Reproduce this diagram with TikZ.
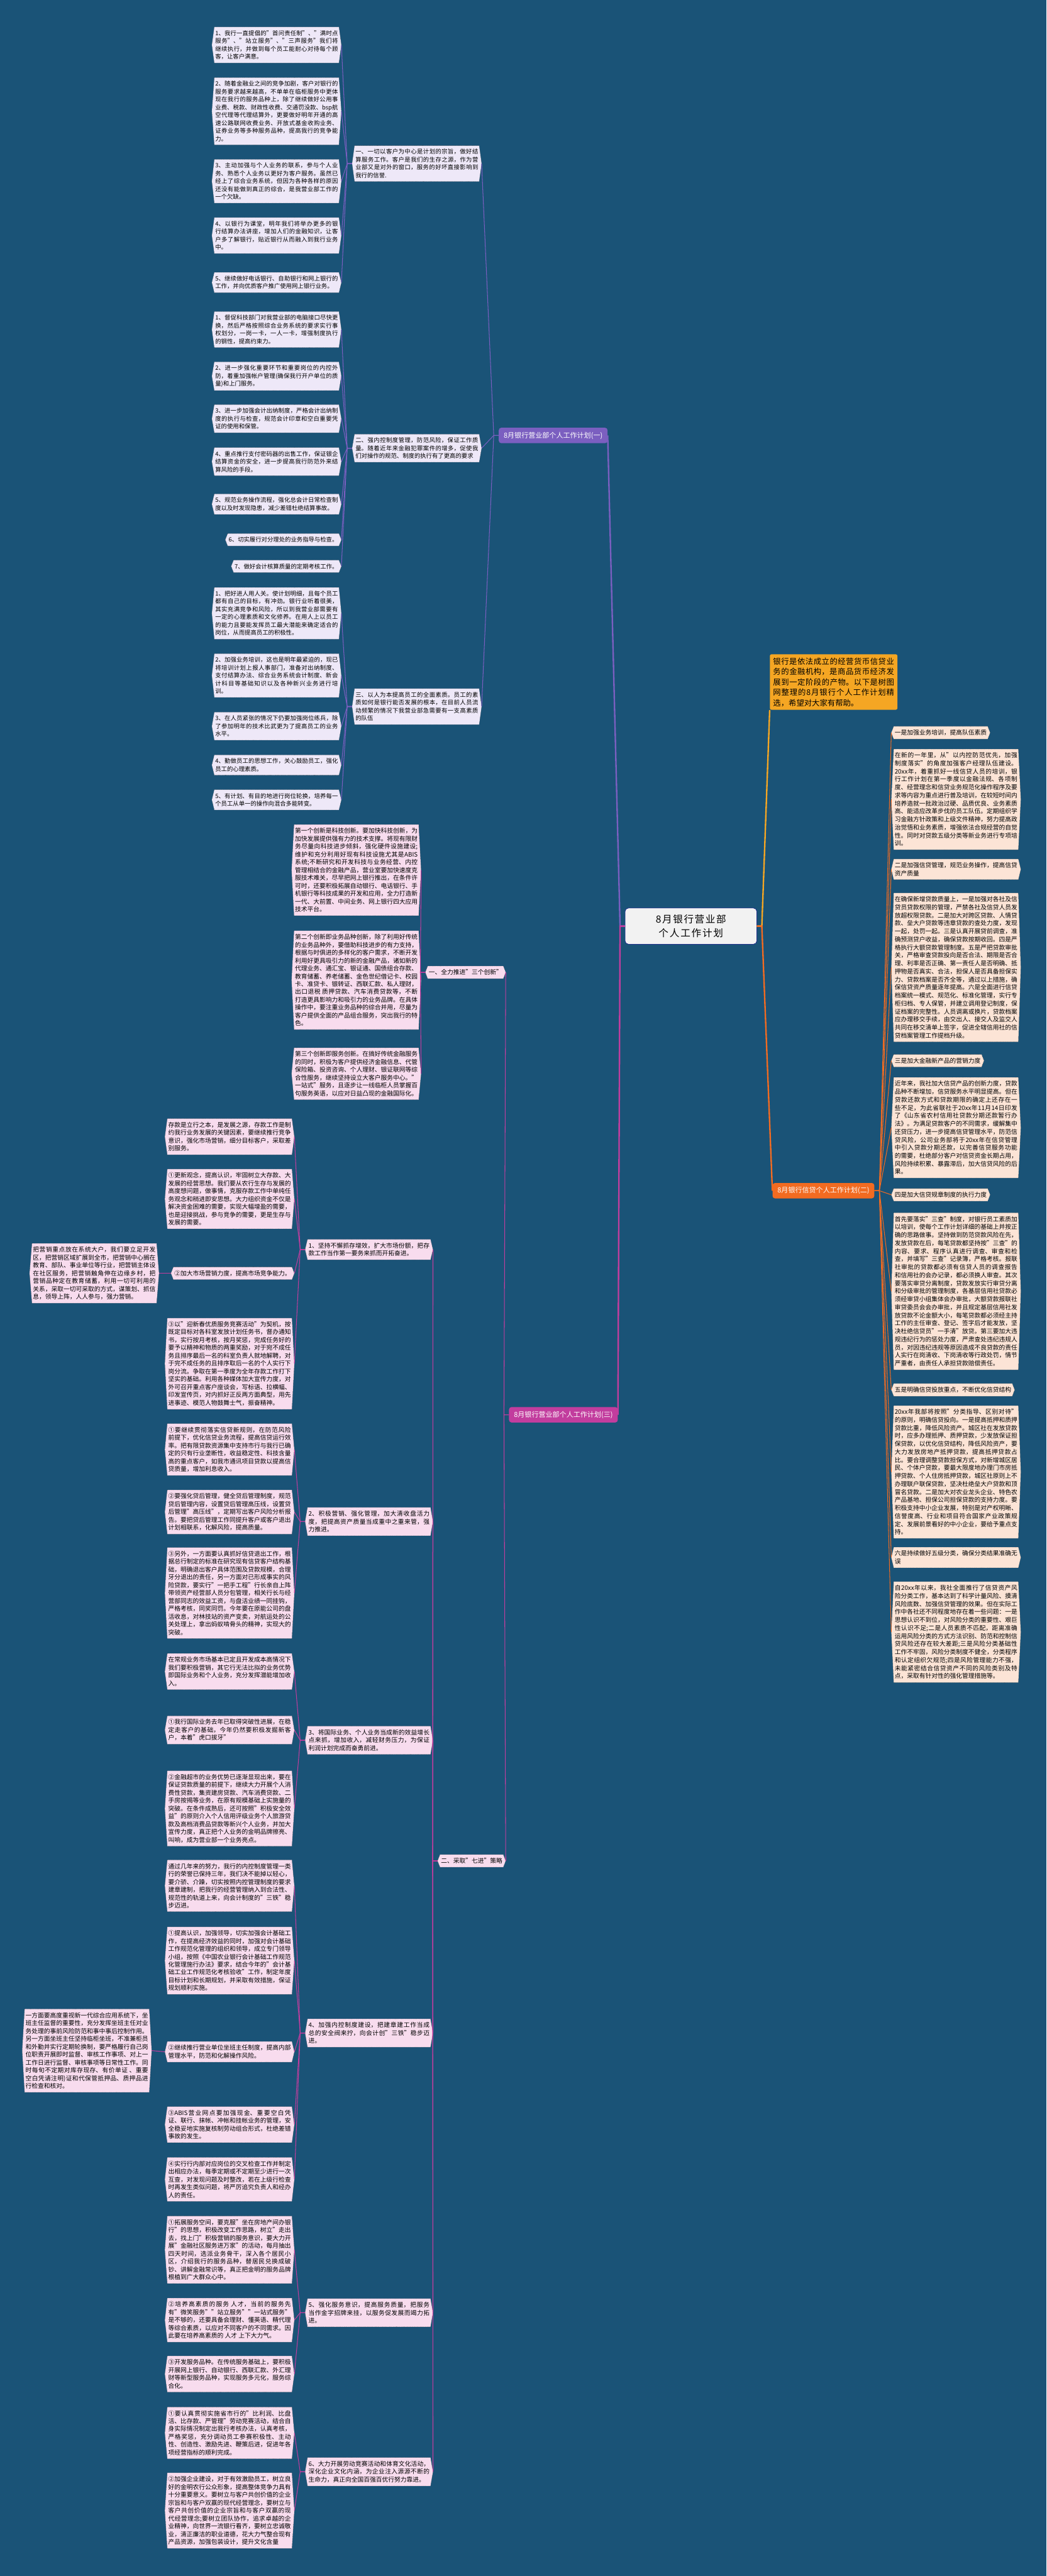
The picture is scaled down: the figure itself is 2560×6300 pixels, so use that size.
\documentclass[tikz,border=0pt]{standalone}
\usepackage{fontspec}
\setmainfont{Noto Sans CJK SC}
\XeTeXlinebreaklocale "zh"
\XeTeXlinebreakskip=0pt plus 1pt
\usetikzlibrary{positioning}
\definecolor{bgblue}{HTML}{1A5377}
\definecolor{lavfill}{HTML}{EEE8F8}
\definecolor{pinkfill}{HTML}{F8DCEE}
\definecolor{peachfill}{HTML}{FCE4D6}
\definecolor{purpleln}{HTML}{7B5FC0}
\definecolor{magentaln}{HTML}{C23D9E}
\definecolor{orangeln}{HTML}{F26B21}
\definecolor{goldln}{HTML}{F5A623}
\definecolor{rootfill}{HTML}{F2F2F2}
\pgfdeclarelayer{boxes}
\pgfsetlayers{boxes,main}

% pointed box drawn behind a named node
\newcommand{\hexbg}[2]{%
  \begin{pgfonlayer}{boxes}
    \draw[boxline, fill=#2] (#1.north west) -- (#1.north east) -- ([xshift=3pt]#1.east)
      -- (#1.south east) -- (#1.south west) -- ([xshift=-3pt]#1.west) -- cycle;
  \end{pgfonlayer}}

\begin{document}
\begin{tikzpicture}[
  x=0.5pt, y=-0.5pt,
  boxline/.style={draw=black!75, densely dotted, line width=0.4pt},
  para/.style={inner xsep=1pt, inner ysep=4pt, text width=150pt, align=justify},
  tag/.style={inner xsep=1pt, inner ysep=4pt},
  lavtxt/.style={font=\fontsize{7.2}{9.6}\selectfont},
  pinktxt/.style={font=\fontsize{7.5}{9.6}\selectfont},
  peachtxt/.style={font=\fontsize{7.5}{9.8}\selectfont},
  branch/.style={rounded corners=3pt, text=white, inner xsep=6pt, inner ysep=5pt, font=\fontsize{8.5}{10}\selectfont},
  lnA/.style={purpleln, line width=0.8pt},
  lnB/.style={orangeln, line width=0.8pt},
  lnC/.style={magentaln, line width=0.8pt}
]
\useasboundingbox (0,0) rectangle (2560,6300);
\begin{pgfonlayer}{boxes}
  \fill[bgblue] (0,0) rectangle (2560,6300);
\end{pgfonlayer}

% centre and intro
\node[draw=blue!50!black, fill=rootfill, rounded corners=4pt, text width=145pt, align=center,
  inner xsep=8pt, inner ysep=8pt, font=\fontsize{12}{17}\selectfont] (root) at (1690,2265) {8月银行营业部个人工作计划};
\node[fill=goldln, rounded corners=2pt, text width=148pt, align=justify, inner sep=4pt,
  font=\fontsize{9.5}{12.7}\selectfont] (intro) at (2039,1668) {银行是依法成立的经营货币信贷业务的金融机构，是商品货币经济发展到一定阶段的产物。以下是树图网整理的8月银行个人工作计划精选，希望对大家有帮助。};

% main branches
\node[branch, fill=purpleln] (planA) at (1353,1065) {8月银行营业部个人工作计划(一)};
\node[branch, fill=orangeln] (planB) at (2014,2912) {8月银行信贷个人工作计划(二)};
\node[branch, fill=magentaln] (planC) at (1378,3460) {8月银行营业部个人工作计划(三)};

% ---- plan (一)
\node[para, lavtxt, anchor=east] (a1) at (1172,400) {一、一切以客户为中心是计划的宗旨，做好结算服务工作。客户是我们的生存之源，作为营业部又是对外的窗口，服务的好坏直接影响到我行的信誉.};
\node[para, lavtxt, anchor=east] (a2) at (1172,1096) {二、强内控制度管理，防范风险，保证工作质量。随着近年来金融犯罪案件的增多，促使我们对操作的规范、制度的执行有了更高的要求};
\node[para, lavtxt, anchor=east] (a3) at (1172,1728) {三、以人为本提高员工的全面素质。员工的素质如何是银行能否发展的根本，在目前人员流动频繁的情况下我营业部急需要有一支高素质的队伍};

\node[para, lavtxt, anchor=east] (a1x1) at (829,110) {1、我行一直提倡的"首问责任制"、"满时点服务"、"站立服务"、"三声服务"我们将继续执行，并做到每个员工能耐心对待每个顾客，让客户满意。};
\node[para, lavtxt, anchor=east] (a1x2) at (829,272) {2、随着金融业之间的竞争加剧，客户对银行的服务要求越来越高，不单单在临柜服务中更体现在我行的服务品种上，除了继续做好公用事业费、税款、财政性收费、交通罚没款、bsp航空代理等代理结算外，更要做好明年开通的高速公路联网收费业务、开放式基金收购业务、证券业务等多种服务品种，提高我行的竞争能力。};
\node[para, lavtxt, anchor=east] (a1x3) at (829,443) {3、主动加强与个人业务的联系，参与个人业务、熟悉个人业务以更好为客户服务。虽然已经上了综合业务系统，但因为各种各样的原因还没有能做到真正的综合，是我营业部工作的一个欠缺。};
\node[para, lavtxt, anchor=east] (a1x4) at (829,576) {4、以银行为课堂，明年我们将举办更多的银行结算办法讲座，增加人们的金融知识，让客户多了解银行，贴近银行从而融入到我行业务中。};
\node[para, lavtxt, anchor=east] (a1x5) at (829,691) {5、继续做好电话银行、自助银行和网上银行的工作，并向优质客户推广使用网上银行业务。};

\node[para, lavtxt, anchor=east] (a2x1) at (829,806) {1、督促科技部门对我营业部的电脑接口尽快更换，然后严格按照综合业务系统的要求实行事权划分，一岗一卡，一人一卡，增强制度执行的钢性，提高约束力。};
\node[para, lavtxt, anchor=east] (a2x2) at (829,920) {2、进一步强化重要环节和重要岗位的内控外防，着重加强帐户管理(确保我行开户单位的质量)和上门服务。};
\node[para, lavtxt, anchor=east] (a2x3) at (829,1024) {3、进一步加强会计出纳制度，严格会计出纳制度的执行与检查，规范会计印章和空白重要凭证的使用和保管。};
\node[para, lavtxt, anchor=east] (a2x4) at (829,1129) {4、重点推行支付密码器的出售工作，保证银企结算资金的安全，进一步提高我行防范外来结算风险的手段。};
\node[para, lavtxt, anchor=east] (a2x5) at (829,1233) {5、规范业务操作流程，强化总会计日常检查制度以及时发现隐患，减少差错杜绝结算事故。};
\node[tag, lavtxt, anchor=east] (a2x6) at (829,1320) {6、切实履行对分理处的业务指导与检查。};
\node[tag, lavtxt, anchor=east] (a2x7) at (829,1385) {7、做好会计核算质量的定期考核工作。};

\node[para, lavtxt, anchor=east] (a3x1) at (829,1500) {1、把好进人用人关。使计划明细，且每个员工都有自己的目标，有冲劲。银行业听着很美，其实充满竞争和风险，所以到我营业部需要有一定的心理素质和文化修养。在用人上以员工的能力且要能发挥员工最大潜能来确定适合的岗位，从而提高员工的积极性。};
\node[para, lavtxt, anchor=east] (a3x2) at (829,1652) {2、加强业务培训，这也是明年最紧迫的，现已将培训计划上报人事部门，准备对出纳制度、支付结算办法、综合业务系统会计制度、新会计科目等基础知识以及各种新兴业务进行培训。};
\node[para, lavtxt, anchor=east] (a3x3) at (829,1776) {3、在人员紧张的情况下仍要加强岗位练兵，除了参加明年的技术比武更为了提高员工的业务水平。};
\node[para, lavtxt, anchor=east] (a3x4) at (829,1871) {4、勤做员工的思想工作，关心鼓励员工，强化员工的心理素质。};
\node[para, lavtxt, anchor=east] (a3x5) at (829,1956) {5、有计划、有目的地进行岗位轮换，培养每一个员工从单一的操作向混合多能转变。};

% ---- plan (三)
\node[tag, pinktxt, anchor=east] (c1) at (1231,2378) {一、全力推进"三个创新"};
\node[tag, pinktxt, anchor=east] (c2) at (1231,4551) {二、采取"七进"策略};

\node[para, pinktxt, anchor=east] (c1x1) at (1024,2128) {第一个创新是科技创新。要加快科技创新，为加快发展提供强有力的技术支撑。将现有限财务尽量向科技进步倾斜，强化硬件设施建设;维护和充分利用好现有科技设施尤其是ABIS系统;不断研究和开发科技与业务经营、内控管理相结合的金融产品，营业室要加快速度克服技术难关，尽早把网上银行推出，在条件许可时，还要积极拓展自动银行、电话银行、手机银行等科技成果的开发和应用，全力打造新一代、大前置、中间业务、网上银行四大应用技术平台。};
\node[para, pinktxt, anchor=east] (c1x2) at (1024,2397) {第二个创新即业务品种创新，除了利用好传统的业务品种外，要借助科技进步的有力支持，根据与时俱进的多样化的客户需求，不断开发利用好更具吸引力的新的金融产品，诸如新的代理业务、通汇宝、银证通、国债组合存款、教育储蓄、养老储蓄、金色世纪借记卡、校园卡、准贷卡、银转证、西联汇款、私人理财，出口退税 质押贷款、汽车消费贷款等，不断打造更具影响力和吸引力的业务品牌。在具体操作中，要注重业务品种的综合并用，尽量为客户提供全面的产品组合服务，突出我行的特色。};
\node[para, pinktxt, anchor=east] (c1x3) at (1024,2626) {第三个创新即服务创新。在搞好传统金融服务的同时，积极为客户提供经济金融信息、代管保险箱、投资咨询、个人理财、银证联网等综合性服务，继续坚持设立大客户服务中心。"一站式"服务，且逐步让一线临柜人员掌握百句服务英语，以应对日益凸现的金融国际化。};

\node[para, pinktxt, anchor=east, text width=148pt] (c2x1) at (1053,3056) {1、坚持不懈抓存增效，扩大市场份额，把存款工作当作第一要务来抓而开拓奋进。};
\node[para, pinktxt, anchor=east, text width=148pt] (c2x2) at (1053,3721) {2、积极营销、强化管理，加大清收盘活力度，把提高资产质量当成重中之重来管，强力推进。};
\node[para, pinktxt, anchor=east, text width=148pt] (c2x3) at (1053,4256) {3、将国际业务、个人业务当成新的效益增长点来抓，增加收入，减轻财务压力，为保证利润计划完成而奋勇前进。};
\node[para, pinktxt, anchor=east, text width=148pt] (c2x4) at (1053,4972) {4、加强内控制度建设，把建章建工作当成总的安全阀来拧，向会计创"三铁"稳步迈进。};
\node[para, pinktxt, anchor=east, text width=148pt] (c2x5) at (1053,5656) {5、强化服务意识，提高服务质量，把服务当作金字招牌来挂，以服务促发展而竭力拓进。};
\node[para, pinktxt, anchor=east, text width=148pt] (c2x6) at (1053,6045) {6、大力开展劳动竞赛活动和体育文化活动，深化企业文化内涵，为企业注入源源不断的生命力，真正向全国百强百优行努力靠进。};

\node[para, pinktxt, anchor=east] (c2x1a) at (714,2780) {存款是立行之本，是发展之源，存款工作是制约我行业务发展的关键因素，要继续推行竞争意识，强化市场营销，细分目标客户，采取差别服务。};
\node[para, pinktxt, anchor=east] (c2x1b) at (714,2932) {①更新观念，提高认识，牢固树立大存款、大发展的经营思想。我们要从农行生存与发展的高度想问题，做事情，克服存款工作中单纯任务观念和稍进即安思想。大力组织资金不仅是解决资金困难的需要，实现大幅增盈的需要，也是迎接挑战，参与竞争的需要，更是生存与发展的需要。};
\node[tag, pinktxt, anchor=east] (c2x1c) at (714,3114) {②加大市场营销力度，提高市场竞争能力。};
\node[para, pinktxt, anchor=east] (c2x1d) at (714,3335) {③以"迎新春优质服务竞赛活动"为契机，按既定目标对各科室发放计划任务书，督办通知书，实行按月考核，按月奖惩，完成任务好的要予以精神和物质的两重奖励，对于宛不成任务且排序最后一名的科室负责人就地解聘，对于完不成任务的且排序取后一名的个人实行下岗分流。争取在第一季度为全年存款工作打下坚实的基础。利用各种媒体加大宣传力度，对外可召开重点客户座谈会，写标语、拉横幅、印发宣传页，对内抓好正反两方面典型，用先进事迹、模范人物鼓舞士气，振奋精神。};
\node[para, pinktxt, anchor=east] (c2x1e) at (383,3114) {把营销重点放在系统大户，我们要立足开发区，把营销区域扩展到全市，把营销中心搁在教育、部队、事业单位等行业，把营销主体设在社区服务，把营销触角伸在边缘乡村，把营销品种定在教育储蓄，利用一切可利用的关系，采取一切可采取的方式，谋策划、抓信息，领导上阵，人人参与，强力营销。};

\node[para, pinktxt, anchor=east] (c2x2a) at (714,3545) {①要继续贯彻落实信贷新规则，在防范风险前提下，优化信贷业务流程，提高信贷运行效率。把有限贷款资源集中支持市行与我行已确定的只有行业垄断性，收益稳定性、科技含量高的重点客户，如我市通讯项目贷款以提高信贷质量，增加利息收入。};
\node[para, pinktxt, anchor=east] (c2x2b) at (714,3698) {②要强化贷后管理，健全贷后管理制度，规范贷后管理内容，设置贷后管理高压线，设置贷后管理"高压线"，定期写出客户风险分析报告。要把贷后管理工作同提升客户或客户退出计划相联系，化解风险，提高质量。};
\node[para, pinktxt, anchor=east] (c2x2c) at (714,3896) {③另外，一方面要认真抓好信贷退出工作，根据总行制定的标准在研究现有信贷客户结构基础，明确退出客户具体范围及贷款规模，合理牙分退出的责任，另一方面对已形成事实的风险贷款，要实行"一把手工程"行长亲自上阵带领资产经营部人员分包管理，相关行长与经营部同志的效益工资，与盘活业绩一同挂钩，严格考核，同奖同罚。今年要在原能公司的盘活收息，对林技站的资产变卖，对航运处的公关处理上，拿出蚂蚁啃骨头的精神，实现大的突破。};

\node[para, pinktxt, anchor=east] (c2x3a) at (714,4088) {在常规业务市场基本已定且开发成本高情况下我们要积极营销，其它行无法比拟的业务优势即国际业务和个人业务，充分发挥潜能增加收入。};
\node[para, pinktxt, anchor=east] (c2x3b) at (714,4231) {①我行国际业务去年已取得突破性进展，在稳定走客户的基础，今年仍然要积极发掘新客户，本着"虎口拔牙"};
\node[para, pinktxt, anchor=east] (c2x3c) at (714,4423) {②金融超市的业务优势已逐渐显现出来，要在保证贷款质量的前提下，继续大力开展个人消费性贷款，集资建房贷款、汽车消费贷款、二手房按揭等业务，在原有规模基础上实施量的突破。在条件成熟后，还可按照"积极安全效益"的原则介入个人信用评级业务个人旅游贷款及高档消费品贷款等新兴个人业务，并加大宣传力度，真正把个人业务的金明品牌擦亮、叫响，成为营业部一个业务亮点。};

\node[para, pinktxt, anchor=east] (c2x4a) at (714,4612) {通过几年来的努力，我行的内控制度管理一类行的荣誉已保持三年，我们决不能掉以轻心，要介骄、介躁，切实按照内控管理制度的要求建章建制，把我行的经营管理纳入到合法性、规范性的轨道上来，向会计制度的"三铁"稳步迈进。};
\node[para, pinktxt, anchor=east] (c2x4b) at (714,4795) {①提高认识，加强领导，切实加强会计基础工作，在提高经济效益的同时，加强对会计基础工作规范化管理的组织和领导，成立专门领导小组，按照《中国农业银行会计基础工作规范化管理施行办法》要求，结合今年的"会计基础工业工作规范化考核验收"工作，制定年度目标计划和长期规划，并采取有效措施，保证规划顺利实施。};
\node[para, pinktxt, anchor=east] (c2x4c) at (714,5018) {②继续推行营业单位坐班主任制度，提高内部管理水平，防范和化解操作风险。};
\node[para, pinktxt, anchor=east] (c2x4d) at (714,5196) {③ABIS营业网点要加强现金、重要空白凭证、联行、抹帐、冲帐和挂帐业务的管理，安全稳妥地实施复核制劳动组合形式，杜绝差错事故的发生。};
\node[para, pinktxt, anchor=east] (c2x4e) at (714,5330) {④实行行内部对应岗位的交叉检查工作并制定出相应办法，每季定期或不定期至少进行一次互查，对发现问题及时整改，若在上级行检查时再发生类似问题，将严厉追究负责人和经办人的责任。};
\node[para, pinktxt, anchor=east] (c2x4f) at (365,5015) {一方面要高度重视新一代综合应用系统下，坐班主任监督的重要性，充分发挥坐班主任对业务处理的事前风险防范和事中事后控制作用。另一方面坐班主任坚持临柜坐班，不准兼柜员和外勤并实行定期轮换制，要严格履行自己岗位职责开展即时监督、审核工作事项、对上一工作日进行监督、审核事项等日常性工作。同时每旬不定期对库存现存、有价单证 、重要空白凭请注明)证和代保管抵押品、质押品进行检查和核对。};

\node[para, pinktxt, anchor=east] (c2x5a) at (714,5502) {①拓展服务空间，要克服"坐在房地产间办银行"的思想，积极改变工作思路，树立"走出去，找上门"积极营销的服务意识，要大力开展"金融社区服务进万家"的活动，每月抽出四天时间，选派业务骨干，深入各个居民小区，介绍我行的服务品种，替居民兑换成破钞、讲解金融常识等，真正把金明的服务品牌根植到广大群众心中。};
\node[para, pinktxt, anchor=east] (c2x5b) at (714,5674) {②培养高素质的服务 人才，当前的服务先有"微笑服务""站立服务""一站式服务"是不够的，还要具备会理财、懂英语、精代理等综合素质，以应对不同客户的不同需求。因此要在培养高素质的 人才 上下大力气。};
\node[para, pinktxt, anchor=east] (c2x5c) at (714,5806) {③开发服务品种。在传统服务基础上，要积极开展网上银行、自动银行、西联汇款、外汇理财等新型服务品种，实现服务多元化，服务综合化。};

\node[para, pinktxt, anchor=east] (c2x6a) at (714,5950) {①要认真贯彻实施省市行的"比利润、比盘活、比存款、严管理"劳动竞赛活动，结合自身实际情况制定出我行考核办法，认真考核，严格奖惩，充分调动员工参赛积极性、主动性、创造性、激励先进、鞭策后进，促进年各项经营指标的顺利完成。};
\node[para, pinktxt, anchor=east] (c2x6b) at (714,6140) {②加强企业建设，对于有效激励员工，树立良好的金明农行公众形象，提高整体竞争力具有十分重要意义。要树立与客户共创价值的企业宗旨和与客户双赢的现代经营理念，要树立与客户共创价值的企业宗旨和与客户双赢的现代经营理念;要树立团队协作，追求卓越的企业精神，向世界一流银行看齐，要树立忠诚敬业，清正廉洁的职业道德，花大力气整合现有产品资源，加强包装设计，提升文化含量};

% ---- plan (二)
\node[tag, peachtxt, anchor=west] (b1) at (2186,1792) {一是加强业务培训，提高队伍素质};
\node[para, peachtxt, anchor=west] (b2) at (2186,1955) {在新的一年里，从"以内控防范优先，加强制度落实"的角度加强客户经理队伍建设。20xx年，着重抓好一线信贷人员的培训，银行工作计划在第一季度以金融法规、各项制度、经营理念和信贷业务规范化操作程序及要求等内容为重点进行普及培训，在较短时间内培养造就一批政治过硬、品质优良、业务素质高、能适应改革步伐的员工队伍。定期组织学习金融方针政策和上级文件精神，努力提高政治觉悟和业务素质，增强依法合规经营的自觉性。同时对贷款五级分类等新业务进行专项培训。};
\node[para, peachtxt, anchor=west] (b3) at (2186,2126) {二是加强信贷管理，规范业务操作，提高信贷资产质量};
\node[para, peachtxt, anchor=west] (b4) at (2186,2366) {在确保新增贷款质量上，一是加强对各社及信贷员贷款权限的管理，严禁各社及信贷人员发放超权限贷款。二是加大对跨区贷款、人情贷款、垒大户贷款等违章贷款的查处力度，发现一起，处罚一起。三是认真开展贷前调查，准确预测贷户收益，确保贷款按期收回。四是严格执行大额贷款管理制度。五是严把贷款审批关，严格审查贷款投向是否合法、期限是否合理、利率是否正确、第一责任人是否明确、抵押物是否真实、合法，担保人是否具备担保实力、贷款档案是否齐全等，通过以上措施，确保信贷资产质量逐年提高。六是全面进行信贷档案统一模式、规范化、标准化管理，实行专柜归档、专人保管，并建立调用登记制度，保证档案的完整性。人员调离或换片，贷款档案应办理移交手续，由交出人、接交人及监交人共同在移交清单上签字，促进全辖信用社的信贷档案管理工作提档升级。};
\node[tag, peachtxt, anchor=west] (b5) at (2186,2594) {三是加大金融新产品的营销力度};
\node[para, peachtxt, anchor=west] (b6) at (2186,2758) {近年来，我社加大信贷产品的创新力度，贷款品种不断增加，信贷服务水平明显提高。但在贷款还款方式和贷款期限的确定上还存在一些不足，为此省联社于20xx年11月14日印发了《山东省农村信用社贷款分期还款暂行办法》。为满足贷款客户的不同需求，缓解集中还贷压力，进一步提高信贷管理水平，防范信贷风险，公司业务部将于20xx年在信贷管理中引入贷款分期还款，以完善信贷服务功能的需要，杜绝部分客户对信贷资金长期占用，风险持续积累、暴露滞后，加大信贷风险的后果。};
\node[tag, peachtxt, anchor=west] (b7) at (2186,2922) {四是加大信贷规章制度的执行力度};
\node[para, peachtxt, anchor=west] (b8) at (2186,3158) {首先要落实"三查"制度，对银行员工素质加以培训，使每个工作计划详细的基础上并按正确的思路做事。坚持做到防范贷款风险在先，发放贷款在后，每笔贷款都坚持按"三查"的内容、要求、程序认真进行调查、审查和检查，并填写"三查"记录簿，严格考核。报联社审批的贷款都必须有信贷人员的调查报告和信用社的会办记录，都必须换人审查。其次要落实审贷分离制度，贷款发放实行审贷分离和分级审批的管理制度，各基层信用社贷款必须经审贷小组集体会办审批，大额贷款报联社审贷委员会会办审批，并且规定基层信用社发放贷款不论金额大小，每笔贷款都必须经主持工作的主任审查、登记、签字后才能发放，坚决杜绝信贷员"一手清"放贷。第三要加大违规违纪行为的惩处力度，严肃查处违纪违规人员，对因违纪违规等原因造成不良贷款的责任人实行在岗清收、下岗清收等行政处罚，情节严重者，由责任人承担贷款赔偿责任。};
\node[tag, peachtxt, anchor=west] (b9) at (2186,3399) {五是明确信贷投放重点，不断优化信贷结构};
\node[para, peachtxt, anchor=west] (b10) at (2186,3600) {20xx年我部将按照"分类指导、区别对待"的原则，明确信贷投向。一是提高抵押和质押贷款比重，降低风险资产。城区社在发放贷款时，应多办理抵押、质押贷款，少发放保证担保贷款，以优化信贷结构，降低风险资产，要大力发放房地产抵押贷款，提高抵押贷款占比。要合理调整贷款担保方式，对新增城区居民、个体户贷款，要最大限度地办理门市房抵押贷款、个人住房抵押贷款，城区社原则上不办理联户联保贷款，坚决杜绝垒大户贷款和顶冒名贷款。二是加大对农业龙头企业、特色农产品基地、担保公司担保贷款的支持力度。要积极支持中小企业发展，特别是对产权明晰、信誉度高、行业和项目符合国家产业政策规定、发展前景看好的中小企业，要给予重点支持。};
\node[para, peachtxt, anchor=west] (b11) at (2186,3809) {六是持续做好五级分类，确保分类结果准确无误};
\node[para, peachtxt, anchor=north west] (b12) at (2186,3868) {自20xx年以来，我社全面推行了信贷资产风险分类工作，基本达到了科学计量风险、摸清风险底数、加强信贷管理的效果。但在实际工作中各社还不同程度地存在着一些问题：一是思想认识不到位，对风险分类的重要性、艰巨性认识不足;二是人员素质不匹配，距离准确运用风险分类的方式方法识别、防范和控制信贷风险还存在较大差距;三是风险分类基础性工作不牢固，风险分类制度不健全，分类程序和认定组织欠规范;四是风险管理能力不强，未能紧密结合信贷资产不同的风险类别及特点，采取有针对性的强化管理措施等。};

% box outlines
\foreach \n in {a1,a2,a3,a1x1,a1x2,a1x3,a1x4,a1x5,a2x1,a2x2,a2x3,a2x4,a2x5,a2x6,a2x7,a3x1,a3x2,a3x3,a3x4,a3x5}
  \hexbg{\n}{lavfill};
\foreach \n in {c1,c2,c1x1,c1x2,c1x3,c2x1,c2x2,c2x3,c2x4,c2x5,c2x6,c2x1a,c2x1b,c2x1c,c2x1d,c2x1e,c2x2a,c2x2b,c2x2c,c2x3a,c2x3b,c2x3c,c2x4a,c2x4b,c2x4c,c2x4d,c2x4e,c2x4f,c2x5a,c2x5b,c2x5c,c2x6a,c2x6b}
  \hexbg{\n}{pinkfill};
\foreach \n in {b1,b2,b3,b4,b5,b6,b7,b8,b9,b10,b11,b12}
  \hexbg{\n}{peachfill};

% connectors
\draw[purpleln, line width=1.8pt] (root.west) -- ++(-12,0) -- (planA.east);
\draw[magentaln, line width=1.8pt] (root.west) -- ++(-12,0) -- (planC.east);
\draw[goldln, line width=1.8pt] (root.east) -- ++(12,0) -- (intro.south west);
\draw[orangeln, line width=1.8pt] (root.east) -- ++(12,0) -- (planB.west);

\foreach \k in {a1,a2,a3}
  \draw[lnA] (planA.west) -- ++(-12,0) -- ([xshift=3pt]\k.east);
\foreach \k in {a1x1,a1x2,a1x3,a1x4,a1x5}
  \draw[lnA] ([xshift=-3pt]a1.west) -- ++(-12,0) -- ([xshift=3pt]\k.east);
\foreach \k in {a2x1,a2x2,a2x3,a2x4,a2x5,a2x6,a2x7}
  \draw[lnA] ([xshift=-3pt]a2.west) -- ++(-12,0) -- ([xshift=3pt]\k.east);
\foreach \k in {a3x1,a3x2,a3x3,a3x4,a3x5}
  \draw[lnA] ([xshift=-3pt]a3.west) -- ++(-12,0) -- ([xshift=3pt]\k.east);

\foreach \k in {c1,c2}
  \draw[lnC] (planC.west) -- ++(-12,0) -- ([xshift=3pt]\k.east);
\foreach \k in {c1x1,c1x2,c1x3}
  \draw[lnC] ([xshift=-3pt]c1.west) -- ++(-12,0) -- ([xshift=3pt]\k.east);
\foreach \k in {c2x1,c2x2,c2x3,c2x4,c2x5,c2x6}
  \draw[lnC] ([xshift=-3pt]c2.west) -- ++(-12,0) -- ([xshift=3pt]\k.east);
\foreach \k in {c2x1a,c2x1b,c2x1c,c2x1d}
  \draw[lnC] ([xshift=-3pt]c2x1.west) -- ++(-12,0) -- ([xshift=3pt]\k.east);
\foreach \k in {c2x2a,c2x2b,c2x2c}
  \draw[lnC] ([xshift=-3pt]c2x2.west) -- ++(-12,0) -- ([xshift=3pt]\k.east);
\foreach \k in {c2x3a,c2x3b,c2x3c}
  \draw[lnC] ([xshift=-3pt]c2x3.west) -- ++(-12,0) -- ([xshift=3pt]\k.east);
\foreach \k in {c2x4a,c2x4b,c2x4c,c2x4d,c2x4e}
  \draw[lnC] ([xshift=-3pt]c2x4.west) -- ++(-12,0) -- ([xshift=3pt]\k.east);
\foreach \k in {c2x5a,c2x5b,c2x5c}
  \draw[lnC] ([xshift=-3pt]c2x5.west) -- ++(-12,0) -- ([xshift=3pt]\k.east);
\foreach \k in {c2x6a,c2x6b}
  \draw[lnC] ([xshift=-3pt]c2x6.west) -- ++(-12,0) -- ([xshift=3pt]\k.east);
\draw[lnC] ([xshift=-3pt]c2x1c.west) -- ([xshift=3pt]c2x1e.east);
\draw[lnC] ([xshift=-3pt]c2x4c.west) -- ([xshift=3pt]c2x4f.east);

\foreach \k in {b1,b2,b3,b4,b5,b6,b7,b8,b9,b10,b11,b12}
  \draw[lnB] (planB.east) -- ++(12,0) -- ([xshift=-3pt]\k.west);

\end{tikzpicture}
\end{document}
